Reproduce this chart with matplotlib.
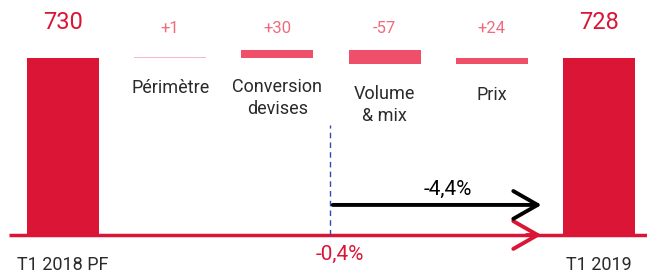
import matplotlib
matplotlib.use("Agg")
import matplotlib.pyplot as plt
from matplotlib.patches import FancyArrowPatch

plt.rcParams['font.family'] = ['Roboto', 'DejaVu Sans']

categories = ["T1 2018 PF", "Périmètre", "Conversion\ndevises", "Volume\n& mix", "Prix", "T1 2019"]
start_value = 730
deltas = [1, 30, -57, 24]
end_value = 728
delta_labels = ["+1", "+30", "-57", "+24"]
total_growth = "-4,4%"
organic_growth = "-0,4%"

RED = "#DA1535"
PINK = "#EF4F69"
PINK_TXT = "#F06A7E"
PALE = "#F7B9C5"

fig = plt.figure(figsize=(6.47, 2.73), dpi=100)
ax = fig.add_axes([0, 0, 1, 1])
ax.set_xlim(-0.588, 5.448)
ax.set_ylim(-156.7, 969)
ax.axis('off')

w = 0.67
ax.bar([0, 5], [start_value, end_value], width=w, color=RED, zorder=2)
level = start_value
for i, d in enumerate(deltas):
    x = i + 1
    bottom = level if d >= 0 else level + d
    color = PALE if abs(d) < 5 else PINK
    h = max(abs(d), 4)
    ax.bar(x, h, bottom=bottom, width=w, color=color, zorder=2)
    ax.text(x, 853, delta_labels[i], ha='center', va='center',
            fontsize=12, color=PINK_TXT)
    level += d

ax.text(0, 878, str(start_value), ha='center', va='center', fontsize=17, color=RED)
ax.text(5, 878, str(end_value), ha='center', va='center', fontsize=17, color=RED)

label_y = [None, 606, 565, 536, 577, None]
for i in range(1, 5):
    ax.text(i, label_y[i], categories[i], ha='center', va='center', fontsize=13,
            color="#2a2a2a", linespacing=1.25)
ax.text(0, -125, categories[0], ha='center', va='center', fontsize=13, color="#2a2a2a")
ax.text(5, -125, categories[5], ha='center', va='center', fontsize=13, color="#2a2a2a")

ax.plot([-0.5, 5.45], [0, 0], color=RED, lw=2.5, zorder=1, solid_capstyle='butt')
ax.add_patch(FancyArrowPatch((4.3, 0), (4.49, 0), arrowstyle='->,head_length=7,head_width=4',
                             color=RED, lw=2.8, mutation_scale=2.5, zorder=3))
ax.plot([2.49, 2.49], [0, 454], color="#3347B5", lw=1, ls=(0, (4, 3)), zorder=1)
ax.add_patch(FancyArrowPatch((2.49, 124), (4.49, 124), arrowstyle='->,head_length=7,head_width=4',
                             color='black', lw=2.8, mutation_scale=2.5, zorder=3))
ax.text(3.59, 186, total_growth, ha='center', va='center', fontsize=15, color='black')
ax.text(2.58, -80, organic_growth, ha='center', va='center', fontsize=15, color=RED)

fig.savefig("out.png", dpi=100)
